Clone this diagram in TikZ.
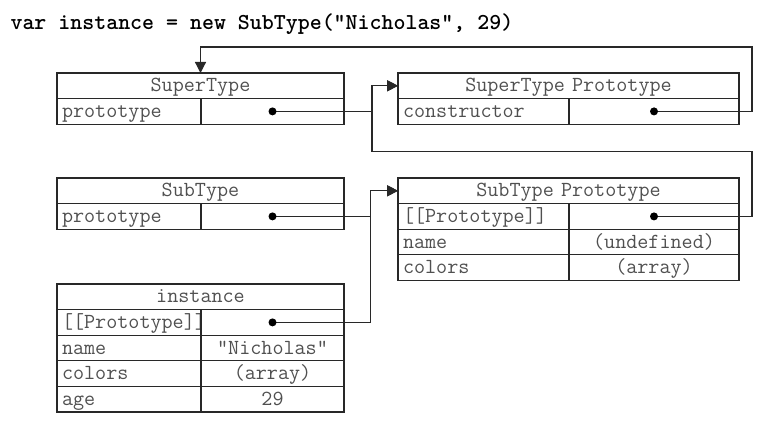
\documentclass[tikz,border=0pt]{standalone}
\usepackage{fontspec}
\usetikzlibrary{arrows.meta,positioning,calc}
\definecolor{boxLine}{RGB}{40,40,40}
\definecolor{boxText}{RGB}{80,80,80}
\newcommand{\cellfont}{\ttfamily\fontsize{21.5}{24}\selectfont}
\begin{document}
\begin{tikzpicture}[
      x=1pt, y=1pt,
      cell/.style={rectangle, draw=boxLine, line width=1.2pt, text=boxText,
        font=\cellfont, inner ysep=0pt, inner xsep=5pt, outer sep=0pt,
        minimum height=25.6pt, text height=14pt, text depth=2pt},
      hdrL/.style={cell, text width=277pt, align=center},
      keyL/.style={cell, text width=134pt, align=left},
      valL/.style={cell, text width=133pt, align=center},
      hdrR/.style={cell, text width=331pt, align=center},
      keyR/.style={cell, text width=161pt, align=left},
      valR/.style={cell, text width=160pt, align=center},
      codeline/.style={font=\ttfamily\bfseries\fontsize{22.8}{26}\selectfont},
      ptr/.style={draw=boxLine, line width=1.2pt, -{Triangle[length=11pt,width=11pt]}},
      dot/.style={fill=black},
    ]
    \useasboundingbox (0,0) rectangle (762,421);
    \node[codeline, anchor=west] (code) at (7,397)
      {var instance = new SubType("Nicholas", 29)};

    % ---- SuperType and its prototype ----
    \node[hdrL, anchor=north west] (stH) at (57,348) {SuperType};
    \node[keyL, below right=0pt and 0pt of stH.south west] (stPk) {prototype};
    \node[valL, right=0pt of stPk] (stPv) {};

    \node[hdrR, anchor=north west] (spH) at (398,348) {SuperType Prototype};
    \node[keyR, below right=0pt and 0pt of spH.south west] (spCk) {constructor};
    \node[valR, right=0pt of spCk] (spCv) {};

    % ---- SubType and its prototype ----
    \node[hdrL, anchor=north west] (sbH) at (57,243) {SubType};
    \node[keyL, below right=0pt and 0pt of sbH.south west] (sbPk) {prototype};
    \node[valL, right=0pt of sbPk] (sbPv) {};

    \node[hdrR, anchor=north west] (sbpH) at (398,243) {SubType Prototype};
    \node[keyR, below right=0pt and 0pt of sbpH.south west] (sbpPk) {[[Prototype]]};
    \node[valR, right=0pt of sbpPk] (sbpPv) {};
    \node[keyR, below right=0pt and 0pt of sbpPk.south west] (sbpNk) {name};
    \node[valR, right=0pt of sbpNk] (sbpNv) {(undefined)};
    \node[keyR, below right=0pt and 0pt of sbpNk.south west] (sbpCk) {colors};
    \node[valR, right=0pt of sbpCk] (sbpCv) {(array)};

    % ---- instance ----
    \node[hdrL, anchor=north west] (inH) at (57,137) {instance};
    \node[keyL, below right=0pt and 0pt of inH.south west] (inPk) {[[Prototype]]};
    \node[valL, right=0pt of inPk] (inPv) {};
    \node[keyL, below right=0pt and 0pt of inPk.south west] (inNk) {name};
    \node[valL, right=0pt of inNk] (inNv) {"Nicholas"};
    \node[keyL, below right=0pt and 0pt of inNk.south west] (inCk) {colors};
    \node[valL, right=0pt of inCk] (inCv) {(array)};
    \node[keyL, below right=0pt and 0pt of inCk.south west] (inAk) {age};
    \node[valL, right=0pt of inAk] (inAv) {29};

    % ---- pointers ----
    \draw[ptr] (spCv.center) -- ++(98,0) |- ($(stH.north)+(0,26)$) -- (stH.north);
    \draw[ptr] (stPv.center) -- ++(99,0) |- (spH.west);
    \draw[ptr] (sbpPv.center) -- ++(98,0) |- ($(spH.west)+(-26,-66)$) |- (spH.west);
    \draw[ptr] (sbPv.center) -- ++(98,0) |- (sbpH.west);
    \draw[ptr] (inPv.center) -- ++(98,0) |- (sbpH.west);

    \foreach \v in {spCv,stPv,sbpPv,sbPv,inPv}
      \fill[dot] (\v.center) circle (4pt);
  \end{tikzpicture}
\end{document}
